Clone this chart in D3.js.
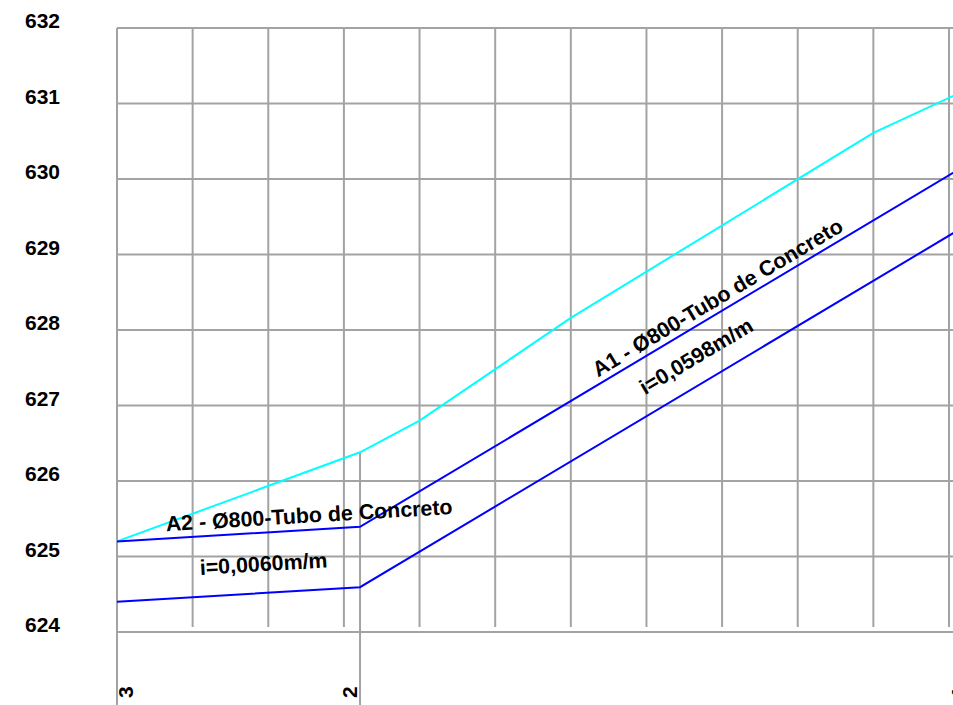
<!DOCTYPE html>
<html><head><meta charset="utf-8">
<script src="https://cdn.jsdelivr.net/npm/d3@7"></script>
<style>
body{margin:0;background:#fff;overflow:hidden}
svg{display:block}
text{font-family:"Liberation Sans",Arial,sans-serif;font-weight:bold;fill:#000}
</style>
</head><body>
<svg id="chart" width="953" height="705"></svg>
<script>
// ---- data ----
const stationNames = ["3", "2", "1"];
const stationDist = [0, 32.13, 112.7];
const terrainDist = [0, 32.13, 40, 60, 100, 112.7];
const terrainElev = [625.20, 626.38, 626.80, 628.16, 630.61, 631.20];
const invertElev = [624.40, 624.593, 629.411];
const pipeDiameter = 0.8;
const segNames = ["A2 - Ø800-Tubo de Concreto", "A1 - Ø800-Tubo de Concreto"];
const segSlopes = ["i=0,0060m/m", "i=0,0598m/m"];
const yTicks = [624, 625, 626, 627, 628, 629, 630, 631, 632];
const xGridDist = [0, 10, 20, 30, 40, 50, 60, 70, 80, 90, 100, 110];

// ---- layout ----
const W = 953, H = 705;
const svg = d3.select("#chart");
const x = d3.scaleLinear().domain([0, 110]).range([117, 949]);
const y = d3.scaleLinear().domain([624, 632]).range([632, 28]);
const gridColor = "#a3a3a3";
const fs = 21;
const fsLabel = 21.4;

const g = svg.append("g");

// horizontal gridlines
g.selectAll("line.h").data(yTicks).join("line")
  .attr("x1", x(0)).attr("x2", x(stationDist[2]))
  .attr("y1", d => y(d)).attr("y2", d => y(d))
  .attr("stroke", gridColor).attr("stroke-width", 2);

// vertical gridlines
g.selectAll("line.v").data(xGridDist).join("line")
  .attr("x1", d => x(d)).attr("x2", d => x(d))
  .attr("y1", y(632)).attr("y2", y(624) - 5)
  .attr("stroke", gridColor).attr("stroke-width", 2);

// station lines (from terrain down to bottom)
const terrainAt = d3.scaleLinear().domain(terrainDist).range(terrainElev);
g.selectAll("line.st").data(stationDist).join("line")
  .attr("x1", d => x(d)).attr("x2", d => x(d))
  .attr("y1", d => y(terrainAt(d))).attr("y2", H + 5)
  .attr("stroke", gridColor).attr("stroke-width", 2);

// y labels
g.selectAll("text.yl").data(yTicks).join("text")
  .attr("x", 25).attr("y", d => y(d))
  .attr("font-size", fs)
  .text(d => d);

// station labels
g.selectAll("text.sl").data(stationDist).join("text")
  .attr("transform", d => `translate(${Math.max(x(d) - 3, x(0) + 16)},698) rotate(-90)`)
  .attr("font-size", fs)
  .text((d, i) => stationNames[i]);

// lines
const line = d3.line().x(d => x(d[0])).y(d => y(d[1]));
const terrainPts = terrainDist.map((d, i) => [d, terrainElev[i]]);
const invertPts = stationDist.map((d, i) => [d, invertElev[i]]);
const crownPts = stationDist.map((d, i) => [d, invertElev[i] + pipeDiameter]);

g.append("path").attr("d", line(terrainPts)).attr("fill", "none")
  .attr("stroke", "#00ffff").attr("stroke-width", 2);
g.append("path").attr("d", line(crownPts)).attr("fill", "none")
  .attr("stroke", "#0000ff").attr("stroke-width", 2);
g.append("path").attr("d", line(invertPts)).attr("fill", "none")
  .attr("stroke", "#0000ff").attr("stroke-width", 2);

// segment labels
const nameStart = [6.5, 63.6];
const slopeStart = [11.0, 69.8];
for (let k = 0; k < 2; k++) {
  const p1 = crownPts[k], p2 = crownPts[k + 1];
  const cr = d3.scaleLinear().domain([p1[0], p2[0]]).range([p1[1], p2[1]]);
  const ang = Math.atan2(y(p2[1]) - y(p1[1]), x(p2[0]) - x(p1[0])) * 180 / Math.PI;
  const nx = x(nameStart[k]), ny = y(cr(nameStart[k])) - 7.3;
  g.append("text").attr("font-size", fsLabel)
    .attr("transform", `translate(${nx},${ny}) rotate(${ang})`)
    .text(segNames[k]);
  const sx = x(slopeStart[k]), sy = y(cr(slopeStart[k])) + 38.5;
  g.append("text").attr("font-size", fsLabel)
    .attr("transform", `translate(${sx},${sy}) rotate(${ang})`)
    .text(segSlopes[k]);
}
</script>
</body></html>
